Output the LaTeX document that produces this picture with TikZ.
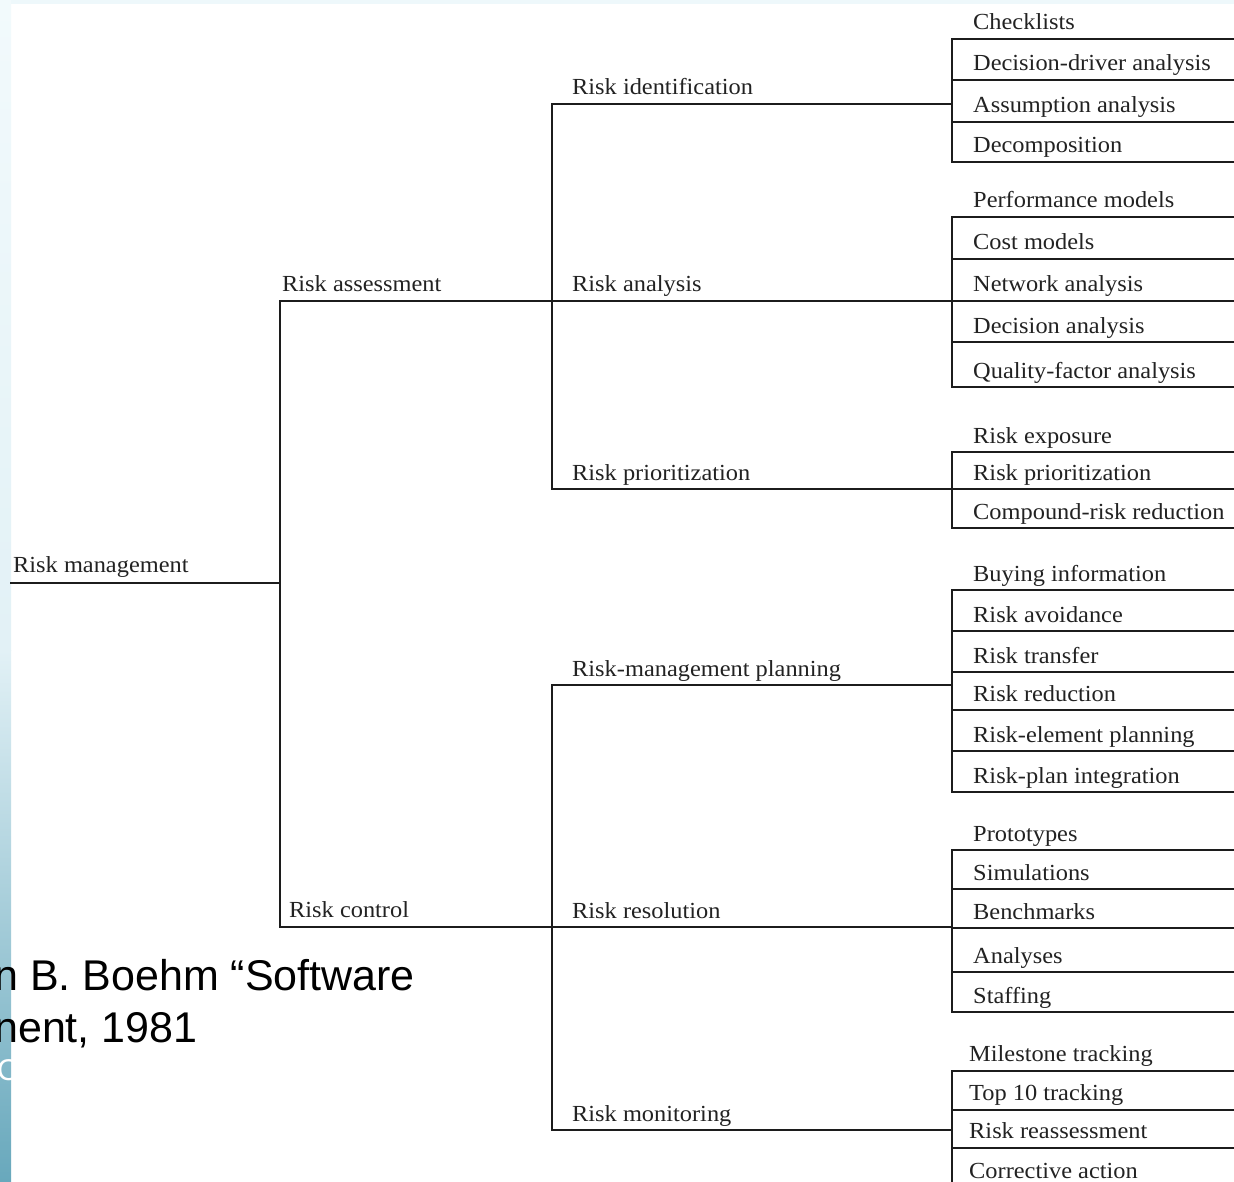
\documentclass[tikz,border=0pt]{standalone}
\usepackage{fontspec}
\setmainfont{Liberation Serif}[FakeStretch=1.06]
\newfontfamily\capfont{Liberation Sans}
\definecolor{ink}{HTML}{222222}
\definecolor{lineink}{HTML}{1C1C1C}
\definecolor{barA}{HTML}{F2FAFC}
\definecolor{barB}{HTML}{E2F1F6}
\definecolor{barC}{HTML}{68A8BC}
\definecolor{strip}{HTML}{EEF8FB}
\tikzset{
  lbl/.style={anchor=base west, inner sep=0pt, font=\fontsize{23}{26}\selectfont, text=ink},
  ln/.style={draw=lineink, line width=1.9pt, line cap=rect},
  caption/.style={anchor=base west, inner sep=0pt, font=\capfont\fontsize{43}{48}\selectfont, text=black}
}
\begin{document}
\begin{tikzpicture}[x=1pt,y=-1pt]
\useasboundingbox (0,0) rectangle (1234,1182);
\clip (0,0) rectangle (1234,1182);
\fill[white] (0,0) rectangle (1234,1182);
\fill[strip] (0,0) rectangle (1234,4);
\shade[top color=barA, bottom color=barB] (0,0) rectangle (11,650);
\shade[top color=barB, bottom color=barC] (0,650) rectangle (11,1182);

% root
\node[lbl] (rm) at (13,572) {Risk management};
\coordinate (rmL) at (11,583);
\coordinate (rmR) at (280,583);
\draw[ln] (rmL) -- (rmR);

% top level
\node[lbl] (ra) at (282,291) {Risk assessment};
\node[lbl] (rc) at (289,917) {Risk control};
\coordinate (raL) at (280,301);
\coordinate (raR) at (552,301);
\coordinate (rcL) at (280,927);
\coordinate (rcR) at (552,927);
\draw[ln] (raR) -- (raL) -- (rcL) -- (rcR);

% mid level
\foreach \n/\y/\t in {m1/104/Risk identification, m2/301/Risk analysis, m3/489/Risk prioritization,
                      m4/685/Risk-management planning, m5/927/Risk resolution, m6/1130/Risk monitoring}{
  \node[lbl] (\n) at (572,\y-9) {\t};
  \coordinate (\n L) at (552,\y);
  \coordinate (\n R) at (952,\y);
  \draw[ln] (\n L) -- (\n R);
}
\draw[ln] (m1L) -- (m3L);
\draw[ln] (m4L) -- (m6L);

% group 1
\foreach \i/\y/\t in {1/39/Checklists, 2/80/Decision-driver analysis, 3/122/Assumption analysis, 4/162/Decomposition}{
  \node[lbl] (ga\i) at (973,\y-9) {\t};
  \coordinate (gaL\i) at (952,\y);
  \coordinate (gaR\i) at (1240,\y);
  \draw[ln] (gaL\i) -- (gaR\i);
}
\draw[ln] (gaL1) -- (gaL4);

% group 2
\foreach \i/\y/\t in {1/217/Performance models, 2/259/Cost models, 3/301/Network analysis, 4/342/Decision analysis, 5/387/Quality-factor analysis}{
  \node[lbl] (gb\i) at (973,\y-9) {\t};
  \coordinate (gbL\i) at (952,\y);
  \coordinate (gbR\i) at (1240,\y);
  \draw[ln] (gbL\i) -- (gbR\i);
}
\draw[ln] (gbL1) -- (gbL5);

% group 3
\foreach \i/\y/\t in {1/452/Risk exposure, 2/489/Risk prioritization, 3/528/Compound-risk reduction}{
  \node[lbl] (gc\i) at (973,\y-9) {\t};
  \coordinate (gcL\i) at (952,\y);
  \coordinate (gcR\i) at (1240,\y);
  \draw[ln] (gcL\i) -- (gcR\i);
}
\draw[ln] (gcL1) -- (gcL3);

% group 4
\foreach \i/\y/\t in {1/590/Buying information, 2/631/Risk avoidance, 3/672/Risk transfer, 4/710/Risk reduction, 5/751/Risk-element planning, 6/792/Risk-plan integration}{
  \node[lbl] (gd\i) at (973,\y-9) {\t};
  \coordinate (gdL\i) at (952,\y);
  \coordinate (gdR\i) at (1240,\y);
  \draw[ln] (gdL\i) -- (gdR\i);
}
\draw[ln] (gdL1) -- (gdL6);

% group 5
\foreach \i/\y/\t in {1/850/Prototypes, 2/889/Simulations, 3/928/Benchmarks, 4/972/Analyses, 5/1012/Staffing}{
  \node[lbl] (ge\i) at (973,\y-9) {\t};
  \coordinate (geL\i) at (952,\y);
  \coordinate (geR\i) at (1240,\y);
  \draw[ln] (geL\i) -- (geR\i);
}
\draw[ln] (geL1) -- (geL5);

% group 6
\foreach \i/\y/\t in {1/1071/Milestone tracking, 2/1110/Top 10 tracking, 3/1148/Risk reassessment, 4/1188/Corrective action}{
  \node[lbl] (gf\i) at (969,\y-10) {\t};
  \coordinate (gfL\i) at (952,\y);
  \coordinate (gfR\i) at (1240,\y);
  \draw[ln] (gfL\i) -- (gfR\i);
}
\draw[ln] (gfL1) -- (gfL4);

% caption fragment (cut off at the left edge, as in the reference)
\node[caption] (cap1) at (-6,990) {n B. Boehm “Software};
\node[caption] (cap2) at (-6,1042) {nent, 1981};
\node[caption, text=white, font=\capfont\fontsize{30}{34}\selectfont] (cap3) at (-3,1080) {C};
\end{tikzpicture}
\end{document}
